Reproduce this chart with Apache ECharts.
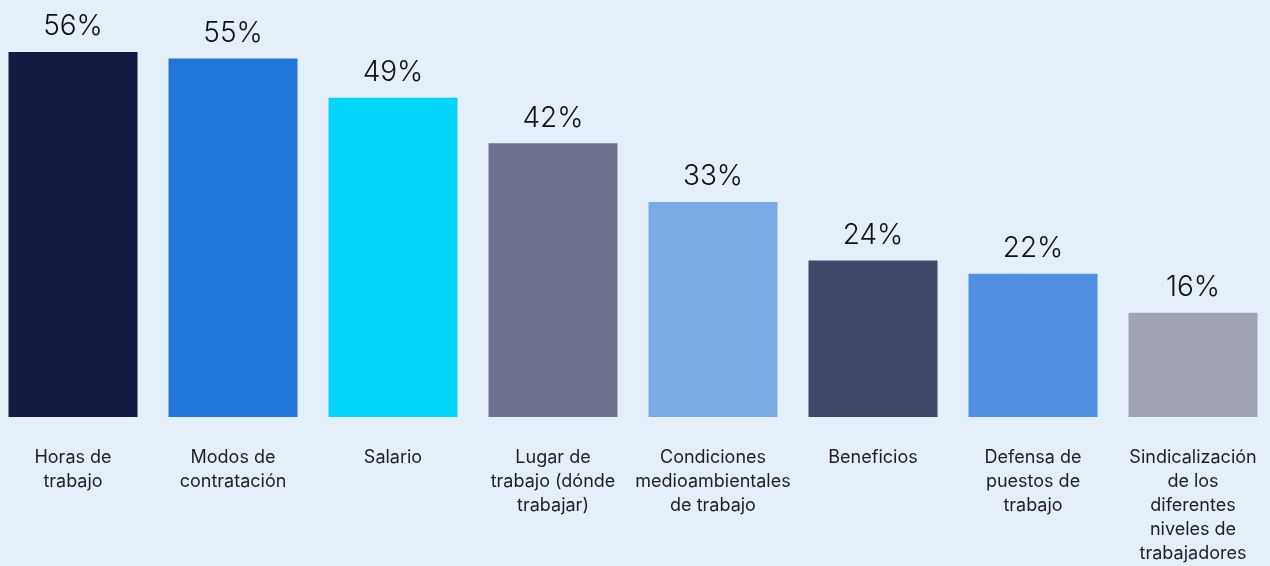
<!DOCTYPE html>
<html>
<head>
<meta charset="utf-8">
<script src="https://cdn.jsdelivr.net/npm/echarts@6/dist/echarts.min.js"></script>
<style>
html,body{margin:0;padding:0;background:#e5eff9;overflow:hidden;}
#c{position:relative;left:-7px;width:1280px;height:566px;}
</style>
</head>
<body>
<div id="c"></div>
<script>
const categories = [
  "Horas de\ntrabajo",
  "Modos de\ncontratación",
  "Salario",
  "Lugar de\ntrabajo (dónde\ntrabajar)",
  "Condiciones\nmedioambientales\nde trabajo",
  "Beneficios",
  "Defensa de\npuestos de\ntrabajo",
  "Sindicalización\nde los\ndiferentes\nniveles de\ntrabajadores"
];
const values = [56, 55, 49, 42, 33, 24, 22, 16];
const barColors = ["#121a42", "#2176d9", "#00d4fa", "#6e7490", "#7aabe5", "#414766", "#4f90e3", "#9fa3b3"];

const chart = echarts.init(document.getElementById('c'), null, {renderer: 'canvas'});
chart.setOption({
  backgroundColor: '#e5eff9',
  animation: false,
  grid: {left: 0, right: 0, top: 26, bottom: 146, containLabel: false},
  xAxis: {
    type: 'category',
    data: categories,
    axisLine: {show: false},
    axisTick: {show: false},
    axisLabel: {
      interval: 0,
      margin: 29,
      color: '#1e1e24',
      fontFamily: 'Inter',
      fontSize: 18,
      lineHeight: 24,
      verticalAlign: 'top'
    }
  },
  yAxis: {
    type: 'value',
    min: 0,
    max: 60,
    show: false,
    splitLine: {show: false}
  },
  series: [{
    type: 'bar',
    barWidth: 129,
    data: values.map((v, i) => ({value: v, itemStyle: {color: barColors[i]}})),
    label: {
      show: true,
      position: 'top',
      distance: 11,
      formatter: '{c}%',
      color: '#111111',
      fontFamily: 'Inter',
      fontWeight: 300,
      fontSize: 28
    }
  }]
});
</script>
</body>
</html>
